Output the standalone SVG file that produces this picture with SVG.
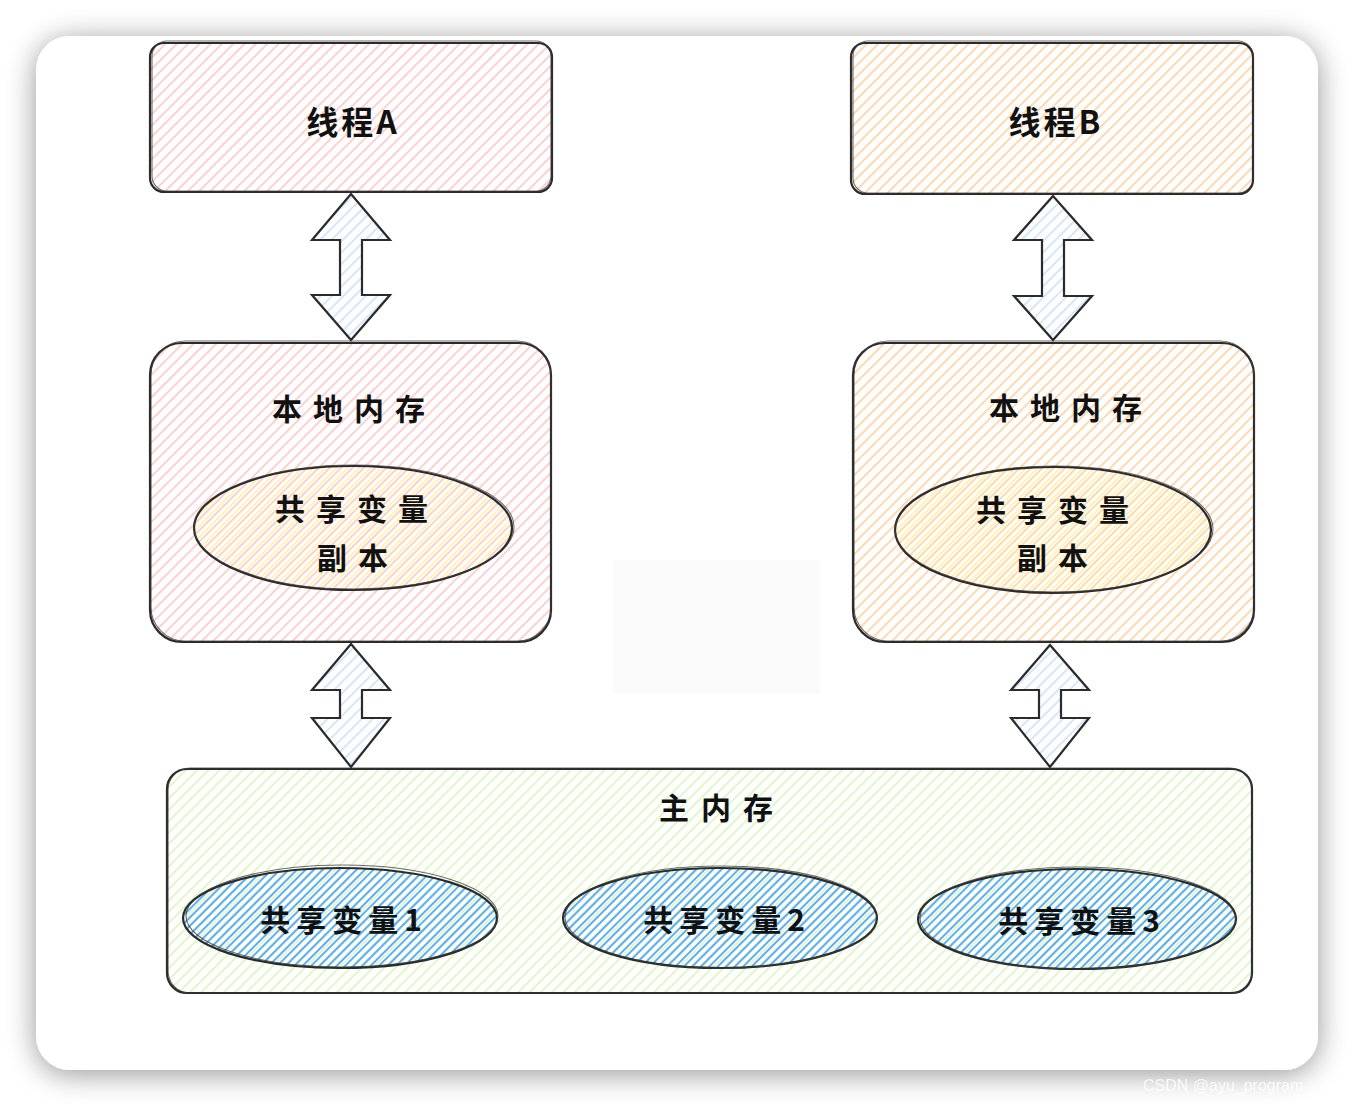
<svg xmlns="http://www.w3.org/2000/svg" width="1354" height="1106" viewBox="0 0 1354 1106">
<style>
.s{fill:none;stroke:#2b2b2b;stroke-width:2.2;stroke-linejoin:round;stroke-linecap:round}
.s2{fill:none;stroke:#3a3a3a;stroke-width:1.1;opacity:.75}
.t{font-family:"Noto Sans CJK SC","Noto Sans",sans-serif;font-weight:700;fill:#111;text-anchor:middle;dominant-baseline:central}
.arrow{stroke:#2b2b2b;stroke-width:2.2;stroke-linejoin:miter}
</style>
<defs>
<filter id="sh" x="-10%" y="-10%" width="120%" height="120%">
<feGaussianBlur in="SourceAlpha" stdDeviation="15"/>
<feOffset dx="0" dy="4"/>
<feComponentTransfer><feFuncA type="linear" slope="0.42"/></feComponentTransfer>
<feMerge><feMergeNode/><feMergeNode in="SourceGraphic"/></feMerge>
</filter>
<pattern id="hp" width="8" height="8" patternUnits="userSpaceOnUse" patternTransform="rotate(45)"><line x1="4" y1="0" x2="4" y2="8" stroke="#ffc4c4" stroke-width="1.6"/></pattern>
<pattern id="ho" width="8" height="8" patternUnits="userSpaceOnUse" patternTransform="rotate(45)"><line x1="4" y1="0" x2="4" y2="8" stroke="#ffcf9c" stroke-width="1.6"/></pattern>
<pattern id="hg" width="8" height="8" patternUnits="userSpaceOnUse" patternTransform="rotate(45)"><line x1="4" y1="0" x2="4" y2="8" stroke="#daf5bd" stroke-width="1.6"/></pattern>
<pattern id="hy" width="8" height="8" patternUnits="userSpaceOnUse" patternTransform="rotate(45)"><line x1="0.5" y1="0" x2="0.5" y2="8" stroke="#fff09a" stroke-width="2"/></pattern>
<pattern id="hb" width="6" height="6" patternUnits="userSpaceOnUse" patternTransform="rotate(45)"><line x1="3" y1="0" x2="3" y2="6" stroke="#5eaef3" stroke-width="2"/></pattern>
<pattern id="ha" width="8" height="8" patternUnits="userSpaceOnUse" patternTransform="rotate(45)"><line x1="4" y1="0" x2="4" y2="8" stroke="#c8e2fb" stroke-width="1.6"/></pattern>
</defs>
<rect width="1354" height="1106" fill="#ffffff"/>
<rect x="36" y="36" width="1282" height="1034" rx="34" fill="#ffffff" filter="url(#sh)"/>
<rect x="613" y="560" width="207" height="134" fill="#fbfbfb"/>
<text x="1143" y="1091" font-family="Liberation Sans,sans-serif" font-size="16" fill="#ffffff" opacity="0.8">CSDN @ayu_program</text>

<g id="connectors">
<path class="arrow" fill="url(#ha)" d="M351,194 L390,240 L362,240 L362,295 L390,295 L351,340 L312,295 L340,295 L340,240 L312,240 Z"/>
<path class="arrow" fill="url(#ha)" d="M351,644 L390,690 L362,690 L362,718 L390,718 L351,767 L312,718 L340,718 L340,690 L312,690 Z"/>
<path class="arrow" fill="url(#ha)" d="M1053,196 L1092,240 L1064,240 L1064,296 L1092,296 L1053,340 L1014,296 L1042,296 L1042,240 L1014,240 Z"/>
<path class="arrow" fill="url(#ha)" d="M1050,645 L1089,690 L1061,690 L1061,718 L1089,718 L1050,767 L1011,718 L1039,718 L1039,690 L1011,690 Z"/>
</g>

<g id="threadA">
<rect x="150" y="43" width="402" height="149" rx="14" fill="url(#hp)"/>
<rect class="s" x="150" y="43" width="402" height="149" rx="14"/>
<rect class="s2" x="152" y="41" width="399" height="150" rx="15"/>
<text class="t" x="353" y="120" font-size="32" letter-spacing="3">线程A</text>
</g>

<g id="threadB">
<rect x="851" y="43" width="402" height="151" rx="14" fill="url(#ho)"/>
<rect class="s" x="851" y="43" width="402" height="151" rx="14"/>
<rect class="s2" x="853" y="41" width="400" height="152" rx="15"/>
<text class="t" x="1056" y="120" font-size="32" letter-spacing="3">线程B</text>
</g>

<g id="localA">
<rect x="150" y="343" width="401" height="299" rx="32" fill="url(#hp)"/>
<rect class="s" x="150" y="343" width="401" height="299" rx="32"/>
<rect class="s2" x="151" y="341" width="400" height="300" rx="34"/>
<text class="t" x="354" y="407" font-size="30" letter-spacing="11">本地内存</text>
<g id="copyA">
<ellipse cx="353" cy="528" rx="159" ry="62" fill="url(#hy)"/>
<ellipse class="s" cx="353" cy="528" rx="159" ry="62"/>
<ellipse class="s2" cx="354" cy="527" rx="160" ry="62"/>
<text class="t" x="357" y="507" font-size="30" letter-spacing="11">共享变量</text>
<text class="t" x="358" y="556" font-size="30" letter-spacing="11">副本</text>
</g>
</g>

<g id="localB">
<rect x="853" y="343" width="401" height="299" rx="32" fill="url(#ho)"/>
<rect class="s" x="853" y="343" width="401" height="299" rx="32"/>
<rect class="s2" x="854" y="341" width="400" height="300" rx="34"/>
<text class="t" x="1071" y="406" font-size="30" letter-spacing="11">本地内存</text>
<g id="copyB">
<ellipse cx="1053" cy="530" rx="158" ry="63" fill="url(#hy)"/>
<ellipse class="s" cx="1053" cy="530" rx="158" ry="63"/>
<ellipse class="s2" cx="1054" cy="529" rx="159" ry="63"/>
<text class="t" x="1058" y="508" font-size="30" letter-spacing="11">共享变量</text>
<text class="t" x="1058" y="556" font-size="30" letter-spacing="11">副本</text>
</g>
</g>

<g id="mainMemory">
<rect x="167" y="769" width="1085" height="224" rx="20" fill="url(#hg)"/>
<rect class="s" x="167" y="769" width="1085" height="224" rx="20"/>
<rect class="s2" x="168" y="768" width="1084" height="225" rx="22"/>
<text class="t" x="722" y="806" font-size="30" letter-spacing="12">主内存</text>
<g id="var1">
<ellipse cx="340" cy="918" rx="157" ry="50" fill="url(#hb)"/>
<ellipse class="s" cx="340" cy="918" rx="157" ry="50"/>
<ellipse class="s2" cx="342" cy="916" rx="156" ry="51"/>
<text class="t" x="344" y="918" font-size="30" letter-spacing="6">共享变量1</text>
</g>
<g id="var2">
<ellipse cx="720" cy="918" rx="157" ry="50" fill="url(#hb)"/>
<ellipse class="s" cx="720" cy="918" rx="157" ry="50"/>
<ellipse class="s2" cx="721" cy="917" rx="156" ry="51"/>
<text class="t" x="727" y="918" font-size="30" letter-spacing="6">共享变量2</text>
</g>
<g id="var3">
<ellipse cx="1077" cy="919" rx="159" ry="50" fill="url(#hb)"/>
<ellipse class="s" cx="1077" cy="919" rx="159" ry="50"/>
<ellipse class="s2" cx="1078" cy="918" rx="158" ry="51"/>
<text class="t" x="1082" y="919" font-size="30" letter-spacing="6">共享变量3</text>
</g>
</g>
</svg>
